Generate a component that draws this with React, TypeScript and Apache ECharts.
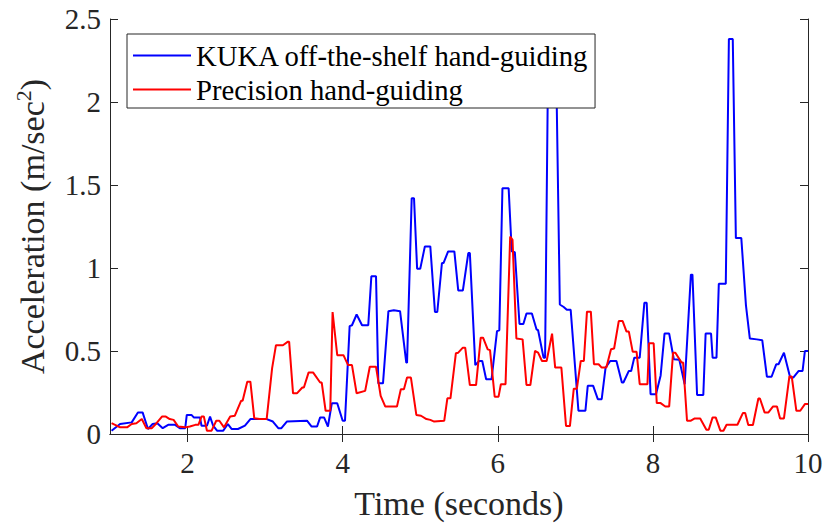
import React, { useEffect, useRef } from "react";
import * as echarts from "echarts";

const xTicks = [2, 4, 6, 8, 10];

const blueTime = [1.02,1.13,1.28,1.36,1.42,1.49,1.55,1.61,1.68,1.75,1.84,1.90,1.97,1.99,2.05,2.08,2.16,2.18,2.25,2.29,2.33,2.38,2.46,2.52,2.57,2.65,2.74,2.81,3.02,3.10,3.17,3.21,3.28,3.54,3.60,3.67,3.71,3.76,3.81,3.86,3.93,4.00,4.03,4.09,4.12,4.18,4.25,4.33,4.37,4.43,4.46,4.52,4.59,4.66,4.74,4.82,4.83,4.89,4.92,4.96,5.00,5.06,5.13,5.19,5.22,5.28,5.30,5.36,5.44,5.49,5.55,5.62,5.64,5.71,5.76,5.80,5.85,5.92,5.99,6.02,6.06,6.14,6.18,6.22,6.28,6.33,6.37,6.44,6.50,6.52,6.59,6.61,6.65,6.75,6.80,6.85,6.89,6.94,7.04,7.13,7.16,7.23,7.29,7.34,7.39,7.45,7.53,7.60,7.62,7.69,7.72,7.76,7.83,7.89,7.92,7.97,8.04,8.10,8.15,8.21,8.27,8.34,8.41,8.49,8.51,8.57,8.65,8.68,8.75,8.77,8.82,8.85,8.94,8.98,9.03,9.07,9.14,9.20,9.25,9.34,9.41,9.47,9.53,9.59,9.62,9.69,9.77,9.81,9.88,9.93,9.96,10.0];
const blueVal = [0.02,0.06,0.07,0.13,0.13,0.03,0.06,0.065,0.035,0.055,0.055,0.035,0.035,0.115,0.115,0.10,0.10,0.05,0.05,0.105,0.05,0.02,0.02,0.06,0.03,0.03,0.05,0.09,0.09,0.075,0.035,0.035,0.075,0.08,0.045,0.045,0.10,0.10,0.045,0.185,0.185,0.08,0.08,0.65,0.655,0.72,0.655,0.655,0.95,0.95,0.305,0.305,0.74,0.745,0.74,0.43,0.43,1.42,1.42,0.995,0.995,1.13,1.13,0.735,0.735,1.03,1.03,1.10,1.10,0.865,0.865,1.09,1.09,0.415,0.44,0.44,0.33,0.33,0.62,0.625,1.48,1.48,1.10,1.095,0.663,0.663,0.726,0.726,0.63,0.625,0.46,0.46,2.3,2.3,0.78,0.765,0.748,0.748,0.14,0.14,0.29,0.29,0.21,0.21,0.40,0.44,0.44,0.31,0.31,0.38,0.38,0.46,0.46,0.79,0.79,0.24,0.24,0.353,0.605,0.605,0.45,0.448,0.30,0.96,0.96,0.235,0.235,0.605,0.605,0.46,0.46,0.905,0.905,2.38,2.38,1.18,1.18,0.775,0.575,0.57,0.565,0.345,0.345,0.42,0.42,0.49,0.34,0.34,0.38,0.38,0.50,0.50];

const redTime = [1.02,1.13,1.22,1.28,1.34,1.41,1.47,1.54,1.60,1.67,1.72,1.77,1.82,1.88,1.97,2.03,2.10,2.14,2.18,2.21,2.25,2.31,2.37,2.41,2.47,2.55,2.61,2.69,2.71,2.77,2.81,2.86,2.93,3.02,3.09,3.14,3.23,3.29,3.31,3.36,3.41,3.48,3.50,3.56,3.62,3.71,3.73,3.78,3.84,3.87,3.93,4.01,4.07,4.12,4.18,4.29,4.35,4.43,4.49,4.55,4.70,4.75,4.79,4.83,4.88,4.95,5.01,5.08,5.13,5.18,5.31,5.35,5.39,5.46,5.49,5.55,5.58,5.64,5.72,5.78,5.81,5.87,5.90,5.96,6.01,6.04,6.10,6.16,6.19,6.24,6.32,6.37,6.42,6.48,6.52,6.57,6.63,6.70,6.74,6.82,6.88,6.93,6.98,7.02,7.07,7.11,7.15,7.20,7.24,7.30,7.34,7.40,7.46,7.50,7.56,7.61,7.66,7.69,7.74,7.79,7.83,7.93,7.95,8.01,8.05,8.10,8.16,8.21,8.26,8.29,8.37,8.39,8.44,8.49,8.54,8.61,8.69,8.72,8.77,8.81,8.87,8.91,8.95,9.09,9.16,9.19,9.23,9.29,9.36,9.38,9.44,9.49,9.55,9.60,9.64,9.69,9.76,9.79,9.85,9.90,9.96,10.0];
const redVal = [0.065,0.04,0.04,0.06,0.065,0.09,0.035,0.035,0.065,0.105,0.105,0.09,0.085,0.045,0.04,0.045,0.055,0.055,0.105,0.105,0.02,0.02,0.08,0.08,0.04,0.105,0.11,0.20,0.20,0.315,0.315,0.095,0.09,0.09,0.395,0.535,0.535,0.555,0.555,0.245,0.245,0.28,0.28,0.37,0.37,0.31,0.31,0.14,0.14,0.735,0.475,0.475,0.415,0.415,0.245,0.26,0.405,0.405,0.23,0.165,0.165,0.27,0.27,0.34,0.34,0.115,0.11,0.09,0.085,0.075,0.08,0.215,0.215,0.487,0.49,0.52,0.52,0.295,0.295,0.58,0.58,0.51,0.505,0.225,0.225,0.30,0.30,1.19,1.17,0.575,0.57,0.295,0.295,0.50,0.49,0.44,0.44,0.605,0.40,0.40,0.048,0.048,0.273,0.273,0.44,0.44,0.737,0.737,0.42,0.42,0.40,0.40,0.51,0.515,0.68,0.68,0.617,0.617,0.495,0.495,0.30,0.30,0.547,0.547,0.186,0.186,0.166,0.166,0.49,0.49,0.43,0.43,0.08,0.08,0.094,0.094,0.026,0.026,0.10,0.10,0.02,0.02,0.056,0.056,0.126,0.126,0.054,0.054,0.214,0.214,0.13,0.13,0.166,0.166,0.094,0.094,0.347,0.347,0.14,0.14,0.18,0.18];

const seriesNames = ["KUKA off-the-shelf hand-guiding", "Precision hand-guiding"];

const FONT = "Liberation Serif";
const AXIS_COLOR = "#262626";

export default function App() {
  const ref = useRef<HTMLDivElement>(null);
  useEffect(() => {
    if (!ref.current) return;
    const chart = echarts.init(ref.current, null, { renderer: "svg" });
    const blueData = blueTime.map((t, i) => [t, blueVal[i]]);
    const redData = redTime.map((t, i) => [t, redVal[i]]);
    const axisLine = { show: true, lineStyle: { color: AXIS_COLOR, width: 1 } };
    const tickStyle = { color: AXIS_COLOR, width: 1 };
    chart.setOption({
      animation: false,
      backgroundColor: "#ffffff",
      grid: { left: 110, right: 19, top: 19, bottom: 90, containLabel: false },
      legend: {
        orient: "vertical",
        left: 127,
        top: 34,
        padding: [7, 6, 4, 6],
        icon: "rect",
        itemWidth: 58,
        itemHeight: 2,
        itemGap: 5,
        backgroundColor: "#ffffff",
        borderColor: AXIS_COLOR,
        borderWidth: 1,
        borderRadius: 0,
        textStyle: { fontFamily: FONT, fontSize: 28.7, color: "#000000", lineHeight: 28 },
        data: seriesNames,
      },
      xAxis: [
        {
          type: "value",
          min: 1,
          max: 10,
          name: "Time (seconds)",
          nameLocation: "middle",
          nameGap: 52,
          nameTextStyle: { fontFamily: FONT, fontSize: 34, color: AXIS_COLOR },
          axisLine,
          axisTick: { show: true, inside: true, length: 8, lineStyle: tickStyle, customValues: xTicks },
          axisLabel: { fontFamily: FONT, fontSize: 29, color: AXIS_COLOR, margin: 14, customValues: xTicks },
          splitLine: { show: false },
        },
        {
          type: "value",
          position: "top",
          min: 1,
          max: 10,
          axisLine,
          axisTick: { show: true, inside: true, length: 8, lineStyle: tickStyle, customValues: xTicks },
          axisLabel: { show: false },
          splitLine: { show: false },
        },
      ],
      yAxis: [
        {
          type: "value",
          min: 0,
          max: 2.5,
          interval: 0.5,
          name: "Acceleration (m/sec{sup|2})",
          nameLocation: "middle",
          nameGap: 58,
          nameRotate: 90,
          nameTextStyle: {
            fontFamily: FONT,
            fontSize: 34,
            color: AXIS_COLOR,
            lineHeight: 40,
            rich: {
              sup: { fontFamily: FONT, fontSize: 22, color: AXIS_COLOR, verticalAlign: "top", lineHeight: 22 },
            },
          },
          axisLine,
          axisTick: { show: true, inside: true, length: 8, lineStyle: tickStyle },
          axisLabel: { fontFamily: FONT, fontSize: 29, color: AXIS_COLOR, margin: 9 },
          splitLine: { show: false },
        },
        {
          type: "value",
          position: "right",
          min: 0,
          max: 2.5,
          interval: 0.5,
          axisLine,
          axisTick: { show: true, inside: true, length: 8, lineStyle: tickStyle },
          axisLabel: { show: false },
          splitLine: { show: false },
        },
      ],
      series: [
        {
          name: seriesNames[0],
          type: "line",
          data: blueData,
          symbol: "none",
          showSymbol: false,
          lineStyle: { color: "#0000ff", width: 2 },
          itemStyle: { color: "#0000ff" },
          z: 2,
        },
        {
          name: seriesNames[1],
          type: "line",
          data: redData,
          symbol: "none",
          showSymbol: false,
          lineStyle: { color: "#ff0000", width: 2 },
          itemStyle: { color: "#ff0000" },
          z: 3,
        },
      ],
    });
    return () => chart.dispose();
  }, []);
  return <div ref={ref} style={{ width: 827, height: 525, position: "absolute", left: 0, top: 0 }} />;
}
